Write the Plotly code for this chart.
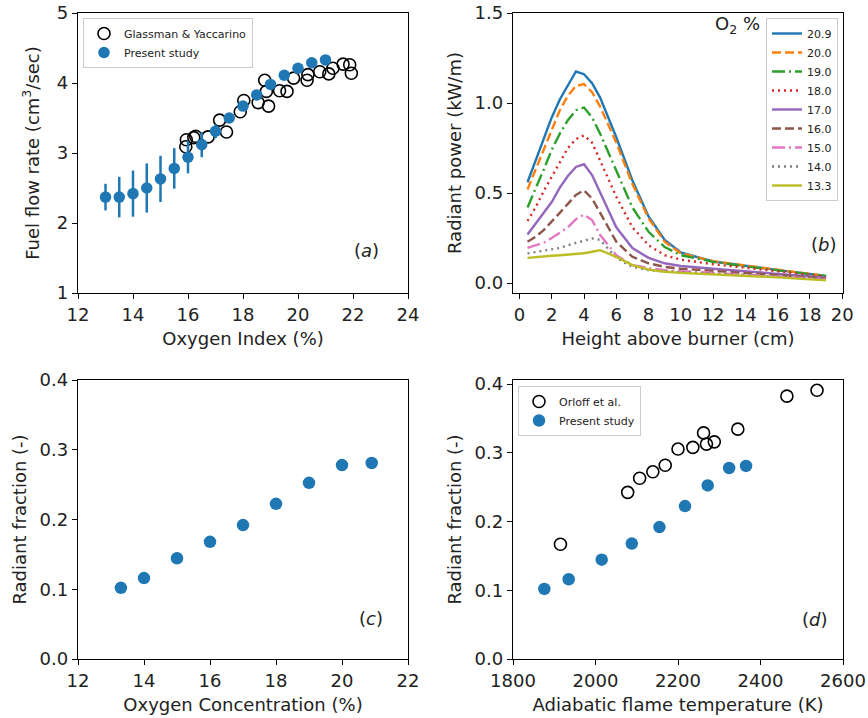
import plotly.graph_objects as go

# ---------------- data ----------------
# (a) fuel flow rate vs oxygen index
gy_oi = [15.94, 15.92, 16.21, 16.28, 16.73, 17.15, 17.40, 17.90, 18.03, 18.55, 18.79, 18.85, 18.93,
         19.33, 19.60, 19.84, 20.33, 20.36, 20.79, 21.12, 21.27, 21.64, 21.88, 21.94]
gy_flow = [3.19, 3.09, 3.22, 3.24, 3.23, 3.47, 3.30, 3.59, 3.75, 3.72, 4.04, 3.88, 3.67,
           3.89, 3.88, 4.07, 4.04, 4.12, 4.16, 4.13, 4.21, 4.27, 4.26, 4.14]
ps_oi = [13.0, 13.5, 14.0, 14.5, 15.0, 15.5, 16.0, 16.5, 17.0, 17.5, 18.0, 18.5, 19.0, 19.5, 20.0, 20.5, 21.0]
ps_flow = [2.37, 2.37, 2.42, 2.50, 2.63, 2.78, 2.94, 3.12, 3.31, 3.50, 3.67, 3.83, 3.98, 4.11, 4.21, 4.29, 4.33]
ps_err = [0.19, 0.29, 0.33, 0.35, 0.33, 0.29, 0.23, 0.18, 0.10, 0.06, 0.05, 0.04, 0.03, 0.03, 0.03, 0.03, 0.03]

# (b) radiant power vs height above burner
height = [0.5, 1, 1.5, 2, 2.5, 3, 3.5, 4, 4.5, 5, 6, 7, 8, 9, 10, 12, 14, 16, 19]
o2_labels = ["20.9", "20.0", "19.0", "18.0", "17.0", "16.0", "15.0", "14.0", "13.3"]
rp_209 = [0.56, 0.68, 0.80, 0.92, 1.02, 1.10, 1.175, 1.16, 1.11, 1.03, 0.81, 0.57, 0.37, 0.24, 0.17, 0.12, 0.095, 0.072, 0.04]
rp_200 = [0.52, 0.63, 0.75, 0.86, 0.96, 1.04, 1.095, 1.105, 1.06, 0.98, 0.78, 0.55, 0.36, 0.23, 0.165, 0.122, 0.097, 0.074, 0.04]
rp_190 = [0.42, 0.52, 0.63, 0.74, 0.83, 0.905, 0.96, 0.975, 0.92, 0.83, 0.63, 0.42, 0.285, 0.20, 0.155, 0.118, 0.093, 0.07, 0.038]
rp_180 = [0.345, 0.42, 0.51, 0.59, 0.67, 0.75, 0.80, 0.82, 0.78, 0.68, 0.48, 0.31, 0.21, 0.155, 0.13, 0.105, 0.085, 0.065, 0.035]
rp_170 = [0.27, 0.33, 0.39, 0.45, 0.53, 0.595, 0.645, 0.66, 0.60, 0.50, 0.31, 0.195, 0.14, 0.11, 0.095, 0.08, 0.066, 0.053, 0.03]
rp_160 = [0.23, 0.257, 0.294, 0.34, 0.39, 0.44, 0.49, 0.515, 0.47, 0.39, 0.23, 0.146, 0.11, 0.09, 0.08, 0.068, 0.057, 0.046, 0.027]
rp_150 = [0.196, 0.21, 0.224, 0.25, 0.28, 0.31, 0.355, 0.38, 0.35, 0.267, 0.155, 0.10, 0.083, 0.072, 0.066, 0.057, 0.048, 0.039, 0.022]
rp_140 = [0.165, 0.172, 0.18, 0.187, 0.195, 0.21, 0.222, 0.235, 0.248, 0.24, 0.14, 0.09, 0.072, 0.065, 0.06, 0.052, 0.044, 0.036, 0.02]
rp_133 = [0.14, 0.145, 0.148, 0.152, 0.155, 0.158, 0.162, 0.166, 0.174, 0.183, 0.146, 0.10, 0.075, 0.063, 0.057, 0.05, 0.041, 0.032, 0.015]
rp_series = [rp_209, rp_200, rp_190, rp_180, rp_170, rp_160, rp_150, rp_140, rp_133]

# (c) radiant fraction vs oxygen concentration
o2_conc = [13.3, 14.0, 15.0, 16.0, 17.0, 18.0, 19.0, 20.0, 20.9]
rad_frac = [0.102, 0.116, 0.1445, 0.168, 0.192, 0.2225, 0.2526, 0.278, 0.281]

# (d) radiant fraction vs adiabatic flame temperature
ps_tad = [1876, 1935, 2015, 2088, 2155, 2217, 2272, 2324, 2365]
orl_tad = [1915, 2078, 2107, 2139, 2169, 2200, 2236, 2262, 2269, 2288, 2345, 2464, 2537]
orl_frac = [0.167, 0.2425, 0.263, 0.2724, 0.282, 0.3055, 0.308, 0.329, 0.3127, 0.316, 0.3345, 0.3825, 0.391]

# ---------------- styling ----------------
BLUE = "#1f77b4"
line_colors = ["#1f77b4", "#ff7f0e", "#2ca02c", "#d62728", "#9467bd", "#8c564b", "#e377c2", "#7f7f7f", "#bcbd22"]
DASH = "9px,4px"
DASHDOT = "13px,4px,2px,4px"
DOT = "2px,4px"
line_dashes = ["solid", DASH, DASHDOT, DOT, "solid", DASH, DASHDOT, DOT, "solid"]
FONT = "DejaVu Sans"
FS = 18
W, H = 868, 718

def dx(p):
    return p / W

def dy(p):
    return 1 - p / H

fig = go.Figure()

# (a)
fig.add_trace(go.Scatter(x=gy_oi, y=gy_flow, mode="markers", name="Glassman & Yaccarino",
                         marker=dict(symbol="circle-open", size=12, color="black", line=dict(width=1.6)),
                         xaxis="x", yaxis="y", legend="legend"))
fig.add_trace(go.Scatter(x=ps_oi, y=ps_flow, mode="markers", name="Present study",
                         error_y=dict(type="data", array=ps_err, visible=True, color=BLUE, thickness=2.5, width=0),
                         marker=dict(symbol="circle", size=11.5, color=BLUE),
                         xaxis="x", yaxis="y", legend="legend"))

# (b)
for lab, ys, col, dsh in zip(o2_labels, rp_series, line_colors, line_dashes):
    fig.add_trace(go.Scatter(x=height, y=ys, mode="lines", name=lab,
                             line=dict(color=col, width=2.4, dash=dsh),
                             xaxis="x2", yaxis="y2", legend="legend2"))

# (c)
fig.add_trace(go.Scatter(x=o2_conc, y=rad_frac, mode="markers", showlegend=False,
                         marker=dict(symbol="circle", size=12.5, color=BLUE),
                         xaxis="x3", yaxis="y3"))

# (d)
fig.add_trace(go.Scatter(x=orl_tad, y=orl_frac, mode="markers", name="Orloff et al.",
                         marker=dict(symbol="circle-open", size=12, color="black", line=dict(width=1.6)),
                         xaxis="x4", yaxis="y4", legend="legend3"))
fig.add_trace(go.Scatter(x=ps_tad, y=rad_frac, mode="markers", name="Present study",
                         marker=dict(symbol="circle", size=12.5, color=BLUE),
                         xaxis="x4", yaxis="y4", legend="legend3"))

axis_common = dict(showline=True, linecolor="black", linewidth=1.3, mirror=True,
                   ticks="outside", ticklen=5, tickwidth=1.2, tickcolor="black",
                   showgrid=False, zeroline=False, automargin=False,
                   tickfont=dict(family=FONT, size=FS, color="#222"))
title_font = dict(family=FONT, size=FS, color="#222")

xa_dom = [dx(78), dx(408)]
xb_dom = [dx(513), dx(843)]
top_dom = [dy(293), dy(13)]
bot_dom = [dy(659), dy(380)]

XSO = 8   # x title standoff
YSO = 8   # y title standoff

def label(text, xc, yc):
    return dict(text=text, x=dx(xc), y=dy(yc), xref="paper", yref="paper", showarrow=False,
                xanchor="center", yanchor="middle",
                font=dict(family=FONT, size=FS, color="#222"))

fig.update_layout(
    width=W, height=H,
    margin=dict(l=0, r=0, t=0, b=0),
    paper_bgcolor="white", plot_bgcolor="white",
    font=dict(family=FONT, size=FS, color="#222"),
    xaxis=dict(axis_common, domain=xa_dom, anchor="y", range=[12, 24], tickvals=[12, 14, 16, 18, 20, 22, 24],
               title=dict(text="Oxygen Index (%)", font=title_font, standoff=XSO)),
    yaxis=dict(axis_common, domain=top_dom, anchor="x", range=[1, 5], tickvals=[1, 2, 3, 4, 5],
               title=dict(text="Fuel flow rate (cm<sup>3</sup>/sec)", font=title_font, standoff=YSO + 4)),
    xaxis2=dict(axis_common, domain=xb_dom, anchor="y2", range=[-0.4, 20.05], tickvals=list(range(0, 21, 2)),
                title=dict(text="Height above burner (cm)", font=title_font, standoff=XSO)),
    yaxis2=dict(axis_common, domain=top_dom, anchor="x2", range=[-0.055, 1.5], tickvals=[0, 0.5, 1.0, 1.5],
                tickformat=".1f",
                title=dict(text="Radiant power (kW/m)", font=title_font, standoff=YSO)),
    xaxis3=dict(axis_common, domain=xa_dom, anchor="y3", range=[12, 22], tickvals=[12, 14, 16, 18, 20, 22],
                title=dict(text="Oxygen Concentration (%)", font=title_font, standoff=XSO)),
    yaxis3=dict(axis_common, domain=bot_dom, anchor="x3", range=[0, 0.4], tickvals=[0, 0.1, 0.2, 0.3, 0.4],
                tickformat=".1f",
                title=dict(text="Radiant fraction (-)", font=title_font, standoff=YSO)),
    xaxis4=dict(axis_common, domain=xb_dom, anchor="y4", range=[1800, 2600],
                tickvals=[1800, 2000, 2200, 2400, 2600],
                title=dict(text="Adiabatic flame temperature (K)", font=title_font, standoff=XSO)),
    yaxis4=dict(axis_common, domain=bot_dom, anchor="x4", range=[0, 0.406], tickvals=[0, 0.1, 0.2, 0.3, 0.4],
                tickformat=".1f",
                title=dict(text="Radiant fraction (-)", font=title_font, standoff=YSO)),
    legend=dict(x=dx(83), y=dy(18), xanchor="left", yanchor="top",
                bgcolor="rgba(255,255,255,0.8)", bordercolor="#cccccc", borderwidth=1,
                font=dict(family=FONT, size=11, color="#222"), tracegroupgap=0),
    legend2=dict(x=dx(838), y=dy(18), xanchor="right", yanchor="top",
                 bgcolor="rgba(255,255,255,0.8)", bordercolor="#cccccc", borderwidth=1,
                 font=dict(family=FONT, size=11, color="#222"), tracegroupgap=0),
    legend3=dict(x=dx(518), y=dy(386), xanchor="left", yanchor="top",
                 bgcolor="rgba(255,255,255,0.8)", bordercolor="#cccccc", borderwidth=1,
                 font=dict(family=FONT, size=11, color="#222"), tracegroupgap=0),
    annotations=[
        label("(<i>a</i>)", 366, 250),
        label("(<i>b</i>)", 824, 245),
        label("(<i>c</i>)", 371, 618),
        label("(<i>d</i>)", 815, 619),
        label("O<sub>2</sub> %", 737, 25),
    ],
)

fig.write_html("out.html")
